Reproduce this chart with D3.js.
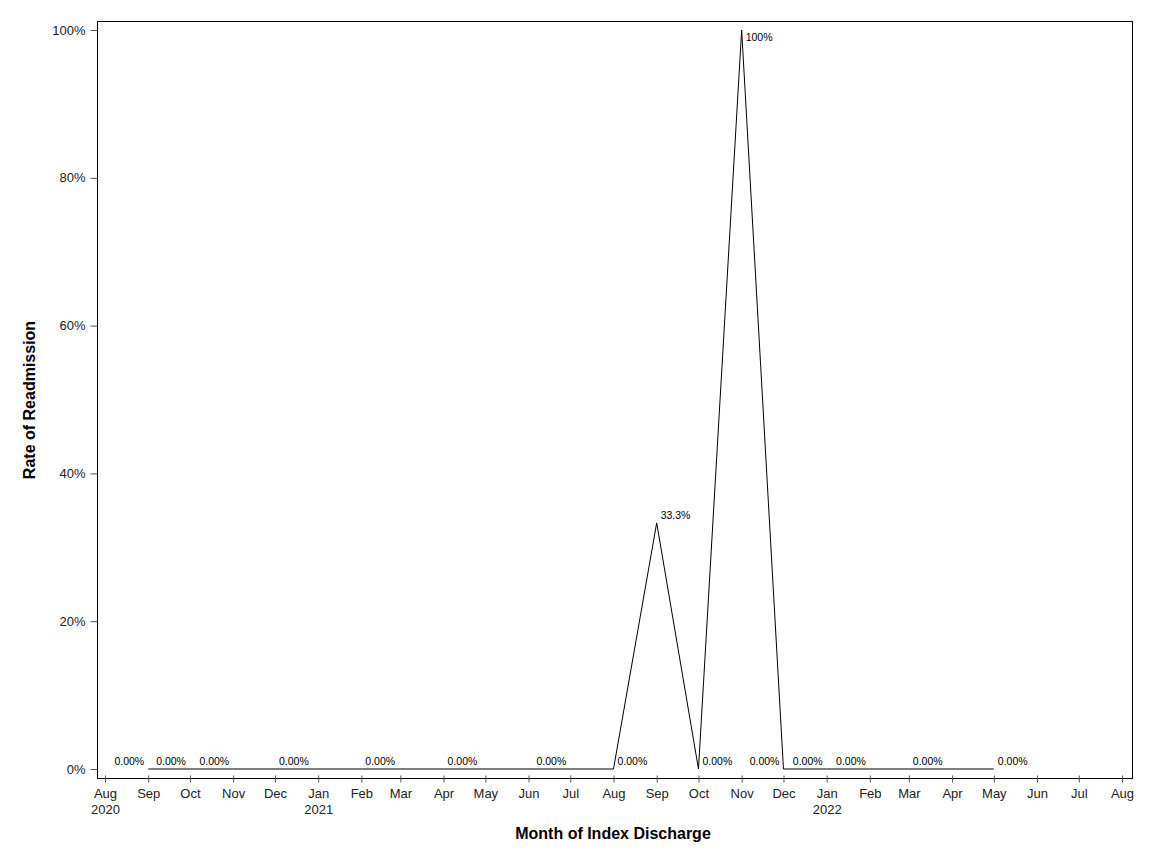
<!DOCTYPE html>
<html>
<head>
<meta charset="utf-8">
<script src="https://cdn.jsdelivr.net/npm/d3@7"></script>
<style>
  body { margin: 0; background: #fff; }
  svg { font-family: "Liberation Sans", Arial, sans-serif; }
</style>
</head>
<body>
<div id="chart"></div>
<script>
// discharge months and readmission rates (%)
var months = ["2020-09", "2020-10", "2020-11", "2020-12", "2021-02", "2021-04", "2021-07",
  "2021-08", "2021-09", "2021-10", "2021-11", "2021-12", "2022-01", "2022-02", "2022-03", "2022-05"];
var rates = [0, 0, 0, 0, 0, 0, 0, 0, 33.3, 0, 100, 0, 0, 0, 0, 0];
var rateLabels = ["0.00%", "0.00%", "0.00%", "0.00%", "0.00%", "0.00%", "0.00%", "0.00%",
  "33.3%", "0.00%", "100%", "0.00%", "0.00%", "0.00%", "0.00%", "0.00%"];
var yTicks = [0, 20, 40, 60, 80, 100];

var W = 1152, H = 864;
var pl = 97, pr = 1132, pt = 21, pb = 778;

var parse = d3.timeParse("%Y-%m");
var data = months.map(function(m, i) {
  return { date: parse(m), rate: rates[i], label: rateLabels[i] };
});

var svg = d3.select("#chart").append("svg")
  .attr("width", W).attr("height", H);

var x = d3.scaleTime()
  .domain([new Date(2020, 7, 1), new Date(2022, 7, 1)])
  .range([105, 1122]);
var y = d3.scaleLinear().domain([0, 100]).range([769, 30]);

// frame
svg.append("rect")
  .attr("x", pl + 0.5).attr("y", pt + 0.5)
  .attr("width", pr - pl).attr("height", pb - pt)
  .attr("fill", "none").attr("stroke", "#000").attr("stroke-width", 1);

// y axis
var yAxis = d3.axisLeft(y).tickValues(yTicks)
  .tickFormat(function(d) { return d + "%"; })
  .tickSize(7).tickPadding(5);
var gy = svg.append("g").attr("transform", "translate(" + (pl + 0.5) + ",0)").call(yAxis);
gy.select(".domain").remove();
gy.selectAll(".tick line").attr("stroke", "#555");
gy.selectAll(".tick text").attr("fill", "#222").style("font-size", "13px");

// x axis
var xTicks = d3.timeMonth.range(new Date(2020, 7, 1), new Date(2022, 8, 1));
var xAxis = d3.axisBottom(x).tickValues(xTicks)
  .tickFormat(d3.timeFormat("%b")).tickSize(4).tickPadding(6);
var gx = svg.append("g").attr("transform", "translate(0," + (pb + 0.5) + ")").call(xAxis);
gx.select(".domain").remove();
gx.selectAll(".tick line").attr("y1", -3).attr("stroke", "#555");
gx.selectAll(".tick text").attr("fill", "#222").style("font-size", "13px");
gx.selectAll(".tick").filter(function(d) { return d.getMonth() === 0 || +d === +xTicks[0]; })
  .append("text")
  .attr("y", 35).attr("fill", "#222").style("font-size", "13px")
  .attr("text-anchor", "middle")
  .text(function(d) { return d.getFullYear(); });

// line
var line = d3.line()
  .x(function(d) { return x(d.date); })
  .y(function(d) { return y(d.rate); });
svg.append("path").datum(data)
  .attr("d", line)
  .attr("fill", "none").attr("stroke", "#000").attr("stroke-width", 1);

// point labels: these sit on the left of their point to avoid crowding
var leftSide = { "2020-09": 1, "2020-10": 1, "2020-11": 1, "2021-07": 1,
  "2021-12": 1, "2022-01": 1, "2022-02": 1 };
svg.append("g").selectAll("text").data(data).enter().append("text")
  .attr("x", function(d, i) { return leftSide[months[i]] ? x(d.date) - 4 : x(d.date) + 4; })
  .attr("y", function(d) { var py = y(d.rate); return py - 12 < pt ? py + 11 : py - 4; })
  .attr("text-anchor", function(d, i) { return leftSide[months[i]] ? "end" : "start"; })
  .style("font-size", "10.5px").attr("fill", "#000")
  .text(function(d) { return d.label; });

// axis titles
svg.append("text")
  .attr("x", 613).attr("y", 839)
  .attr("text-anchor", "middle")
  .style("font-size", "16px").style("font-weight", "bold")
  .text("Month of Index Discharge");
svg.append("text")
  .attr("transform", "translate(35,400) rotate(-90)")
  .attr("text-anchor", "middle")
  .style("font-size", "16px").style("font-weight", "bold")
  .text("Rate of Readmission");
</script>
</body>
</html>
